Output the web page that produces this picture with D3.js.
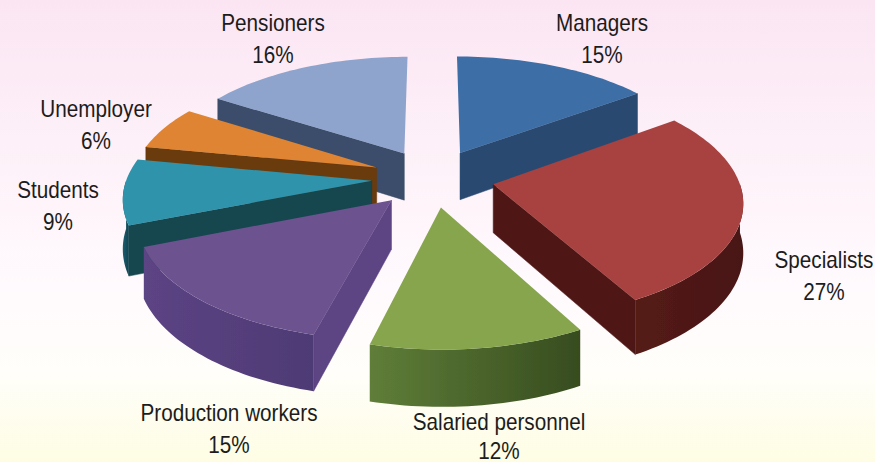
<!DOCTYPE html>
<html><head><meta charset="utf-8">
<style>html,body{margin:0;padding:0;background:#fff}svg{display:block}
text{font-family:"Liberation Sans",sans-serif;font-size:23px;fill:#1c1c1c;text-anchor:middle}</style>
<script src="https://cdn.jsdelivr.net/npm/d3@7"></script>
</head><body><svg id="c" width="875" height="462"></svg>
<script>
const categories=["Managers","Specialists","Salaried personnel","Production workers","Students","Unemployer","Pensioners"];
const shares=[15,27,12,15,9,6,16];
const topColors=["#3d6ea6","#a84240","#86a54e","#6c5290","#2f93ab","#df8431","#8fa4cc"];
const rimLight=["#2f5078","#541b19","#5f7e38","#5c4484","#1c5e6f","#7a4412","#465a78"];
const rimDark=["#27425f","#4a1614","#374c1f","#4e3a74","#134450","#5f330b","#3a4c66"];
const sideColors=["#2a4a70","#4f1917","#4a6329","#5c4482","#15464f","#6b3a0e","#3b4e6a"];
const labelPos=[[602,31,32],[824,268,32],[499,430,29],[229,421,32],[58,198,32],[96,117,32],[273,31,32]];

const W=875,H=462,cx=433,cy=178,R0=245,tilt=0.47,persp=0.13,depth=48,explode=0.25;
const svg=d3.select("#c");
const defs=svg.append("defs");
const bg=defs.append("linearGradient").attr("id","bg").attr("x1",0).attr("x2",0).attr("y1",0).attr("y2",1);
[[0,"#fbe5f3"],[0.3,"#fdf0f8"],[0.62,"#fffafd"],[0.8,"#fffefa"],[1,"#fefde4"]].forEach(s=>bg.append("stop").attr("offset",s[0]).attr("stop-color",s[1]));
defs.append("filter").attr("id","soft").append("feGaussianBlur").attr("stdDeviation",0.6);
svg.append("rect").attr("width",W).attr("height",H).attr("fill","url(#bg)");

const pie=d3.pie().sort(null).value(d=>d)(shares);
const ux=d3.scaleLinear().domain([0,1]).range([0,R0]);
function proj(u,v,z){const k=1/(1-persp*v);return [cx+ux(u)*k, cy+ux(v)*tilt*k-z*depth*k];}
const line=d3.line();
const g=svg.append("g").attr("filter","url(#soft)");
const order=pie.map((p,i)=>({p,i,mid:(p.startAngle+p.endAngle)/2}))
  .sort((a,b)=>Math.cos(b.mid)-Math.cos(a.mid));

order.forEach(({p,i,mid})=>{
  const ou=explode*Math.sin(mid),ov=-explode*Math.cos(mid);
  const pt=(a,r,z)=>proj(ou+r*Math.sin(a),ov-r*Math.cos(a),z);
  const arcAngles=(a0,a1)=>{const n=Math.max(2,Math.ceil((a1-a0)*40));return d3.range(n+1).map(j=>a0+(a1-a0)*j/n);};
  const a0=p.startAngle,a1=p.endAngle;
  [[a0,a0-Math.PI/2],[a1,a1+Math.PI/2]].forEach(([a,n])=>{
    if(Math.cos(n)<-0.01){
      g.append("path").attr("d",line([pt(a,0,0),pt(a,1,0),pt(a,1,-1),pt(a,0,-1)])+"Z")
        .attr("fill",sideColors[i]).attr("stroke",sideColors[i]).attr("stroke-width",0.5);
    }
  });
  const f0=Math.max(a0,Math.PI/2),f1=Math.min(a1,Math.PI*1.5);
  if(f1>f0){
    const as=arcAngles(f0,f1);
    const pts=as.map(a=>pt(a,1,0)).concat(as.slice().reverse().map(a=>pt(a,1,-1)));
    const xs=pts.map(d=>d[0]);
    const id="wall"+i;
    const gr=defs.append("linearGradient").attr("id",id).attr("gradientUnits","userSpaceOnUse")
      .attr("x1",d3.min(xs)).attr("x2",d3.max(xs)).attr("y1",0).attr("y2",0);
    gr.append("stop").attr("offset",0).attr("stop-color",rimLight[i]);
    gr.append("stop").attr("offset",1).attr("stop-color",rimDark[i]);
    g.append("path").attr("d",line(pts)+"Z").attr("fill","url(#"+id+")");
  }
  const top=[pt(0,0,0)].concat(arcAngles(a0,a1).map(a=>pt(a,1,0)));
  g.append("path").attr("d",line(top)+"Z").attr("fill",topColors[i]);
});

categories.forEach((c,i)=>{
  const [x,y,gap]=labelPos[i];
  const t=svg.append("text").attr("transform","translate("+x+","+y+") scale(0.9,1)");
  t.append("tspan").attr("x",0).text(c);
  t.append("tspan").attr("x",0).attr("dy",gap).text(shares[i]+"%");
});
</script></body></html>
